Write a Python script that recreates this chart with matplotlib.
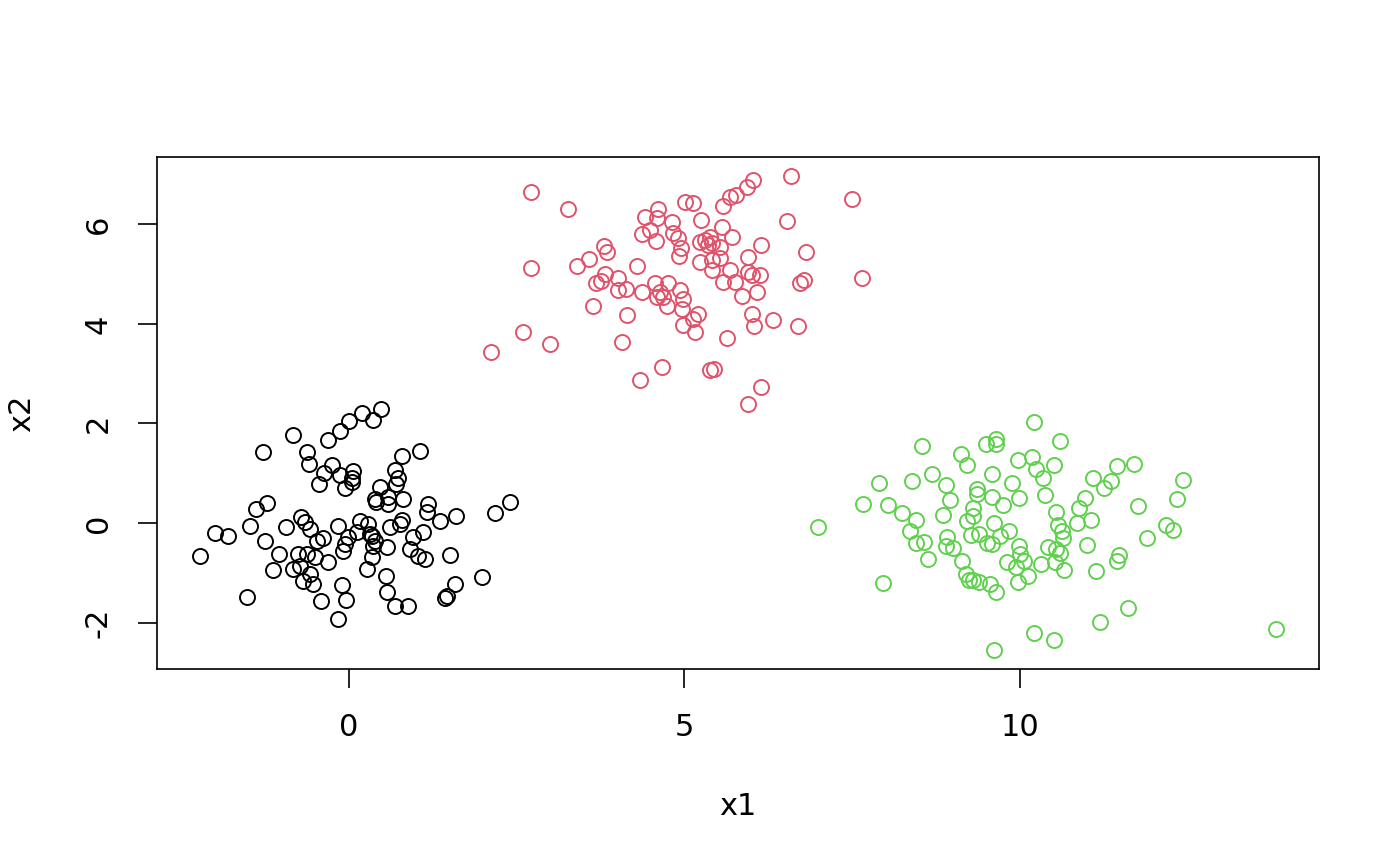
import numpy as np
import matplotlib
matplotlib.use("Agg")
import matplotlib.pyplot as plt

# cluster 1 (black)
x1_a = [-2.22, -2.00, -1.80, -1.52, -1.28, -1.48, -1.39, -1.22, -1.25, -1.13,
        -1.04, -0.94, -0.83, -0.83, -0.72, -0.66, -0.63, -0.60, -0.58, -0.48,
        -0.39, -0.76, -0.63, -0.73, -0.58, -0.69, -0.54, -0.51, -0.31, -0.42,
        -0.16, -0.10, -0.04, -0.31, -0.13, 0.00, 0.19, 0.36, 0.48, -0.25,
        -0.37, -0.13, 0.04, 0.06, -0.45, -0.06, 0.04, -0.16, -0.01, -0.06,
        -0.09, 0.12, 0.16, 0.28, 0.31, 0.39, 0.36, 0.61, 0.76, 0.79,
        0.95, 1.10, 0.57, 0.91, 1.03, 1.13, 0.34, 0.27, 0.55, 0.57,
        0.69, 0.88, 0.79, 1.06, 0.69, 0.73, 0.70, 0.39, 0.46, 0.58,
        0.58, 0.80, 1.18, 1.16, 1.36, 1.59, 2.18, 2.40, 1.51, 1.58,
        1.46, 1.43, 1.98, 0.40, 0.34]
x2_a = [-0.66, -0.20, -0.26, -1.48, 1.42, -0.06, 0.28, 0.40, -0.36, -0.94,
        -0.62, -0.08, 1.76, -0.92, 0.12, 0.02, 1.42, 1.18, -0.12, -0.36,
        -0.30, -0.62, -0.62, -0.86, -1.02, -1.16, -1.22, -0.68, -0.78, -1.56,
        -1.92, -1.24, -1.54, 1.66, 1.84, 2.04, 2.20, 2.06, 2.30, 1.16,
        1.00, 0.96, 0.90, 1.04, 0.78, 0.70, 0.82, -0.06, -0.28, -0.42,
        -0.56, -0.18, 0.04, -0.02, -0.22, -0.36, -0.46, -0.08, -0.02, 0.06,
        -0.28, -0.18, -0.48, -0.52, -0.66, -0.72, -0.68, -0.92, -1.06, -1.38,
        -1.66, -1.66, 1.34, 1.44, 1.06, 0.90, 0.78, 0.48, 0.72, 0.52,
        0.38, 0.48, 0.38, 0.22, 0.04, 0.14, 0.20, 0.42, -0.64, -1.22,
        -1.46, -1.50, -1.08, 0.42, -0.26]

# cluster 2 (red)
x1_b = [2.71, 3.26, 2.71, 3.40, 3.58, 3.80, 3.85, 3.82, 3.68, 3.76,
        4.01, 4.01, 4.13, 4.29, 4.37, 3.64, 4.14, 2.59, 3.00, 2.12,
        4.07, 4.66, 4.34, 4.41, 4.61, 4.59, 4.81, 4.37, 4.49, 4.58,
        4.83, 4.92, 4.56, 4.75, 4.63, 4.68, 4.59, 4.74, 5.01, 5.13,
        5.57, 5.25, 4.90, 4.95, 5.23, 5.31, 5.38, 5.41, 5.35, 5.56,
        5.71, 5.53, 5.23, 5.41, 5.53, 5.41, 5.68, 5.57, 5.75, 5.95,
        5.95, 6.01, 6.13, 6.15, 5.86, 6.08, 4.93, 4.98, 4.96, 5.20,
        6.59, 6.02, 5.93, 5.77, 5.68, 7.50, 6.53, 6.81, 6.72, 6.78,
        7.65, 4.98, 5.13, 5.16, 5.63, 6.01, 6.04, 6.32, 6.69, 5.38,
        5.44, 6.15, 5.95]
x2_b = [6.65, 6.31, 5.13, 5.17, 5.31, 5.57, 5.45, 5.01, 4.83, 4.87,
        4.93, 4.67, 4.71, 5.17, 4.63, 4.35, 4.17, 3.83, 3.59, 3.43,
        3.63, 3.13, 2.87, 6.15, 6.31, 6.13, 6.05, 5.81, 5.89, 5.67,
        5.83, 5.37, 4.83, 4.83, 4.63, 4.53, 4.53, 4.35, 6.45, 6.43,
        6.37, 6.09, 5.73, 5.53, 5.65, 5.69, 5.75, 5.63, 5.59, 5.95,
        5.75, 5.55, 5.25, 5.29, 5.33, 5.09, 5.09, 4.85, 4.85, 5.35,
        5.05, 4.99, 4.99, 5.59, 4.55, 4.63, 4.69, 4.49, 4.29, 4.19,
        6.97, 6.89, 6.75, 6.59, 6.55, 6.51, 6.07, 5.45, 4.83, 4.89,
        4.93, 3.97, 4.09, 3.83, 3.71, 4.19, 3.95, 4.07, 3.95, 3.07,
        3.09, 2.73, 2.40]

# cluster 3 (green)
x1_c = [6.99, 7.66, 7.90, 7.96, 8.03, 8.24, 8.39, 8.46, 8.36, 8.45,
        8.57, 8.63, 8.55, 8.69, 8.90, 8.96, 8.85, 8.91, 8.90, 9.00,
        9.12, 9.22, 9.14, 9.20, 9.25, 9.30, 9.40, 9.55, 9.64, 9.30,
        9.22, 9.31, 9.37, 9.36, 9.28, 9.40, 9.49, 9.64, 9.64, 9.58,
        9.58, 9.75, 9.61, 9.84, 9.70, 9.51, 9.58, 9.97, 9.88, 9.99,
        9.99, 10.00, 10.06, 9.81, 9.94, 10.12, 9.97, 10.19, 10.22, 10.25,
        10.22, 9.61, 10.60, 10.51, 10.34, 10.37, 11.09, 11.36, 11.25, 11.45,
        11.71, 12.44, 12.35, 11.77, 10.97, 10.89, 10.85, 11.07, 10.54, 10.57,
        10.63, 10.64, 10.42, 10.54, 10.60, 10.52, 10.31, 10.66, 11.01, 11.48,
        11.45, 11.13, 11.89, 12.18, 12.28, 11.61, 11.19, 10.51, 13.82]
x2_c = [-0.08, 0.38, 0.80, -1.20, 0.36, 0.20, 0.84, 0.06, -0.16, -0.40,
        -0.38, -0.72, 1.54, 0.98, 0.76, 0.46, 0.16, -0.28, -0.46, -0.50,
        1.38, 1.16, -0.76, -1.02, -1.14, -1.14, -1.18, -1.22, -1.38, 0.30,
        0.04, 0.14, 0.68, 0.58, -0.24, -0.22, 1.58, 1.68, 1.58, 0.98,
        0.52, 0.36, 0.00, -0.16, -0.26, -0.40, -0.42, 1.26, 0.80, 0.50,
        -0.46, -0.62, -0.76, -0.78, -0.88, -1.06, -1.18, 1.32, 2.02, 1.08,
        -2.20, -2.55, 1.64, 1.16, 0.90, 0.56, 0.90, 0.84, 0.70, 1.14,
        1.18, 0.86, 0.48, 0.34, 0.50, 0.30, 0.00, 0.06, 0.22, -0.04,
        -0.16, -0.30, -0.48, -0.52, -0.60, -0.78, -0.82, -0.94, -0.44, -0.64,
        -0.76, -0.96, -0.30, -0.04, -0.14, -1.70, -1.98, -2.34, -2.12]

clusters = [(x1_a, x2_a, "black"), (x1_b, x2_b, "#DF536B"), (x1_c, x2_c, "#61D04F")]

plt.rcParams['font.family'] = ['DejaVu Sans']
plt.rcParams['axes.unicode_minus'] = False

fig = plt.figure(figsize=(14, 8.66), dpi=100)
ax = fig.add_axes([157 / 1400, 1 - 669 / 866, (1319 - 157) / 1400, (669 - 157) / 866])

for xs, ys, col in clusters:
    ax.plot(xs, ys, linestyle="none", marker="o", markersize=10.8,
            markerfacecolor="none", markeredgecolor=col, markeredgewidth=1.4)

# R style axis range: data range extended by 4%
all_x = np.concatenate([x1_a, x1_b, x1_c])
all_y = np.concatenate([x2_a, x2_b, x2_c])
dx = (all_x.max() - all_x.min()) * 0.04
dy = (all_y.max() - all_y.min()) * 0.04
ax.set_xlim(all_x.min() - dx, all_x.max() + dx)
ax.set_ylim(all_y.min() - dy, all_y.max() + dy)

ax.set_xticks([0, 5, 10])
ax.set_yticks([-2, 0, 2, 4, 6])
ax.tick_params(direction="out", length=14, width=1.2, labelsize=22, pad=18)
for lab in ax.get_yticklabels():
    lab.set_rotation(90)
    lab.set_va("center")
for sp in ax.spines.values():
    sp.set_linewidth(1.2)

ax.set_xlabel("x1", fontsize=22, labelpad=36)
ax.set_ylabel("x2", fontsize=22, labelpad=34)

fig.savefig("out.png", dpi=100)
